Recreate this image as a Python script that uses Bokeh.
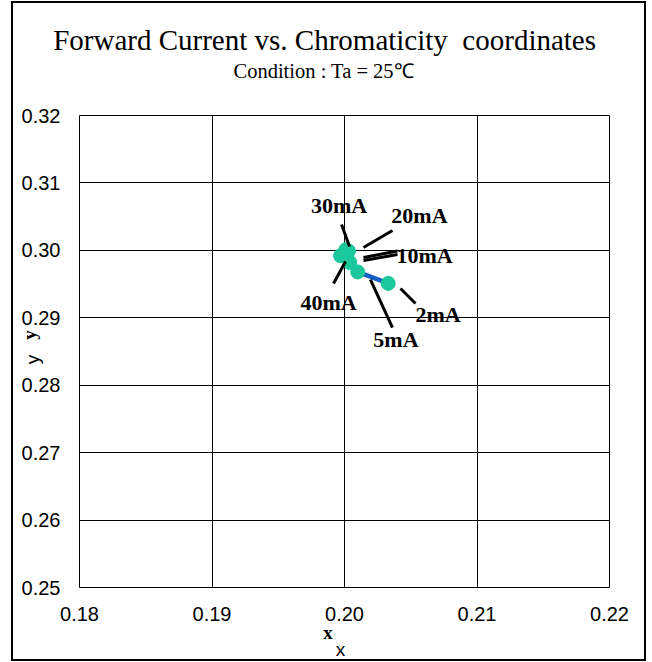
from bokeh.plotting import figure
from bokeh.models import Label, FixedTicker, ColumnDataSource, LinearAxis, Title
from bokeh.embed import file_html
from bokeh.resources import INLINE

# ---- data ----
currents = ["2mA", "5mA", "10mA", "20mA", "30mA", "40mA"]
cx = [0.2033, 0.2010, 0.2004, 0.2003, 0.2001, 0.1997]
cy = [0.2951, 0.2968, 0.2982, 0.2999, 0.3001, 0.2992]
x_ticks = [0.18, 0.19, 0.20, 0.21, 0.22]
x_tick_labels = ["0.18", "0.19", "0.20", "0.21", "0.22"]
y_ticks = [0.25, 0.26, 0.27, 0.28, 0.29, 0.30, 0.31, 0.32]
y_tick_labels = ["0.25", "0.26", "0.27", "0.28", "0.29", "0.30", "0.31", "0.32"]
title_text = "Forward Current vs. Chromaticity\u00a0 coordinates"
subtitle_text = "Condition : Ta = 25\u2103"

# ---- layout (page pixels) ----
OX, OY = 13, 3                      # figure origin on page
W, H = 631, 656
PFL, PFR, PFT, PFB = 79, 609, 115, 587   # frame edges on page
XR = (0.18, 0.22)
YR = (0.25, 0.32)
PXX = (PFR - PFL) / (XR[1] - XR[0])
PXY = (PFB - PFT) / (YR[1] - YR[0])
NB = "\u00a0"

# annotation offsets (px, y down) relative to each point
ann = {
    "2mA":  dict(label=(49.8, 31.6), leaders=[((12.3, 5.1), (27.3, 20.1))]),
    "5mA":  dict(label=(38.2, 67.1), leaders=[((12.7, 7.6), (34.7, 55.6))]),
    "10mA": dict(label=(74.7, -6.5), leaders=[((13.7, -2), (47.7, -8)), ((13.7, -5), (47.7, -11.5))]),
    "20mA": dict(label=(71, -36), leaders=[((15, -3.5), (44, -20.5))]),
    "30mA": dict(label=(-6.8, -43.7), leaders=[((-4.3, -25.2), (3.7, -3.2))]),
    "40mA": dict(label=(-12, 46.3), leaders=[((-7, 27.8), (5, 5.8))]),
}

p = figure(width=W, height=H, x_range=XR, y_range=YR,
           output_backend="svg", toolbar_location=None,
           min_border_left=PFL - OX, min_border_right=OX + W - PFR,
           min_border_top=PFT - OY, min_border_bottom=OY + H - PFB,
           margin=(OY, 0, 0, OX),
           styles={"outline": "2px solid black"})
p.title.visible = False
p.outline_line_color = "black"
p.outline_line_width = 1
p.background_fill_color = "white"
p.border_fill_color = "white"

for ax, ticks, labels in ((p.xaxis[0], x_ticks, x_tick_labels), (p.yaxis[0], y_ticks, y_tick_labels)):
    ax.ticker = FixedTicker(ticks=ticks)
    ax.major_label_overrides = {t: l for t, l in zip(ticks, labels)}
    ax.major_tick_in = 0
    ax.major_tick_out = 0
    ax.minor_tick_in = 0
    ax.minor_tick_out = 0
    ax.axis_line_color = None
    ax.major_label_text_font = "Liberation Sans"
    ax.major_label_text_font_size = "20px"
    ax.major_label_text_color = "black"
    ax.major_label_standoff = 19

for g in (p.xgrid[0], p.ygrid[0]):
    g.grid_line_color = "black"
    g.grid_line_width = 1
    g.grid_line_alpha = 1
p.xgrid[0].ticker = FixedTicker(ticks=x_ticks)
p.ygrid[0].ticker = FixedTicker(ticks=y_ticks)

src = ColumnDataSource(dict(x=cx, y=cy, name=currents))
p.line("x", "y", source=src, line_color="#1560C8", line_width=4.5)
p.scatter("x", "y", source=src, size=14, fill_color="#1AC89B", line_color="#1AC89B")

# leaders and labels
x0s, y0s, x1s, y1s = [], [], [], []
for name, x, y in zip(currents, cx, cy):
    a = ann[name]
    for (d0, d1) in a["leaders"]:
        x0s.append(x + d0[0] / PXX); y0s.append(y - d0[1] / PXY)
        x1s.append(x + d1[0] / PXX); y1s.append(y - d1[1] / PXY)
    p.add_layout(Label(x=x + a["label"][0] / PXX, y=y - a["label"][1] / PXY, text=name,
                       text_align="center", text_baseline="middle",
                       text_font="Liberation Serif", text_font_style="bold",
                       text_font_size="22px", text_color="black"))
p.segment(x0s, y0s, x1s, y1s, line_color="black", line_width=3)

# titles (above panels: first added is closest to frame)
p.add_layout(Title(text=NB, align="left", standoff=8.6,
                   text_font="Liberation Serif", text_font_size="20px"), "above")
p.add_layout(Title(text=subtitle_text, align="left", offset=233 - PFL, standoff=2,
                   text_font="Liberation Serif", text_font_size="20.5px",
                   text_font_style="normal", text_color="black"), "above")
p.add_layout(Title(text=title_text, align="left", offset=52.7 - PFL, standoff=2,
                   text_font="Liberation Serif", text_font_size="29px",
                   text_font_style="normal", text_color="black"), "above")

# axis-title letters: extra label-only axes (nbsp padding shifts them along the axis)
def label_axis(text, font, style, standoff):
    return LinearAxis(ticker=FixedTicker(ticks=[]), axis_label=text,
                      axis_line_color=None, major_tick_out=0, major_tick_in=0,
                      minor_tick_out=0, minor_tick_in=0, major_label_standoff=0,
                      axis_label_text_font=font, axis_label_text_font_style=style,
                      axis_label_text_font_size="19px", axis_label_text_color="black",
                      axis_label_standoff=standoff)

p.add_layout(label_axis("x" + NB * 7, "Liberation Serif", "bold", -2), "below")
p.add_layout(Title(text="x", align="left", offset=335.25 - PFL, standoff=-14,
                   vertical_align="top", text_font="Liberation Sans",
                   text_font_size="19px", text_font_style="normal",
                   text_color="black"), "below")
p.add_layout(label_axis(NB * 7 + "y", "Liberation Serif", "bold", -21), "left")
p.add_layout(label_axis("y" + NB * 3, "Liberation Sans", "normal", -27), "left")

open("out.html", "w").write(file_html(p, INLINE))
